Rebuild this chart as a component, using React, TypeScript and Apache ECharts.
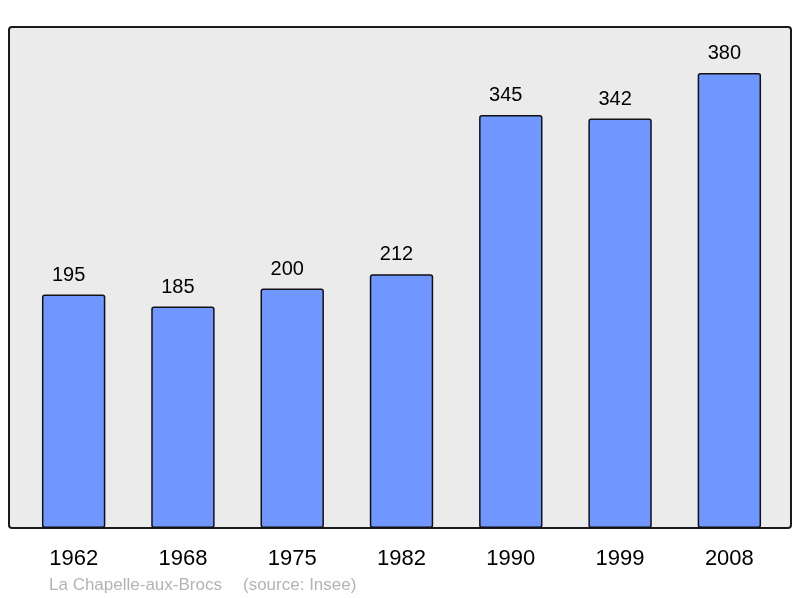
import React, { useEffect, useRef } from "react";
import * as echarts from "echarts";

const years = ["1962", "1968", "1975", "1982", "1990", "1999", "2008"];
const population = [195, 185, 200, 212, 345, 342, 380];
const footerPlace = "La Chapelle-aux-Brocs";
const footerSource = "(source: Insee)";

export default function App() {
  const ref = useRef<HTMLDivElement>(null);
  useEffect(() => {
    const chart = echarts.init(ref.current!, null, { renderer: "svg" });
    chart.setOption({
      animation: false,
      graphic: [
        {
          type: "rect",
          z: -10,
          shape: { x: 9, y: 27, width: 782, height: 501, r: 3 },
          style: { fill: "#ebebeb", stroke: "#1a1a1a", lineWidth: 2 },
        },
        {
          type: "text",
          x: 49,
          y: 584,
          style: {
            text: footerPlace,
            fill: "#b3b3b3",
            font: "17px 'Liberation Sans', Arial, sans-serif",
            verticalAlign: "middle",
          },
        },
        {
          type: "text",
          x: 243,
          y: 584,
          style: {
            text: footerSource,
            fill: "#b3b3b3",
            font: "17px 'Liberation Sans', Arial, sans-serif",
            verticalAlign: "middle",
          },
        },
      ],
      grid: { left: 19, top: 27, width: 765, height: 501 },
      xAxis: {
        type: "category",
        data: years,
        axisLine: { show: false },
        axisTick: { show: false },
        axisLabel: {
          fontSize: 22,
          color: "#000",
          fontFamily: "'Liberation Sans', Arial, sans-serif",
          margin: 18,
          offset: [-1, 0],
        },
      },
      yAxis: {
        type: "value",
        min: 0,
        max: 418.5,
        show: false,
        splitLine: { show: false },
      },
      series: [
        {
          type: "bar",
          data: population,
          barWidth: "58%",
          itemStyle: {
            color: "#7097ff",
            borderColor: "#111",
            borderWidth: 1.5,
            borderRadius: 2,
          },
          label: {
            show: true,
            position: "top",
            distance: 11,
            offset: [-5, 0],
            fontSize: 20,
            color: "#000",
            fontFamily: "'Liberation Sans', Arial, sans-serif",
          },
        },
      ],
    });
    return () => chart.dispose();
  }, []);
  return (
    <div
      ref={ref}
      style={{ position: "fixed", left: 0, top: 0, width: 800, height: 598 }}
    />
  );
}
